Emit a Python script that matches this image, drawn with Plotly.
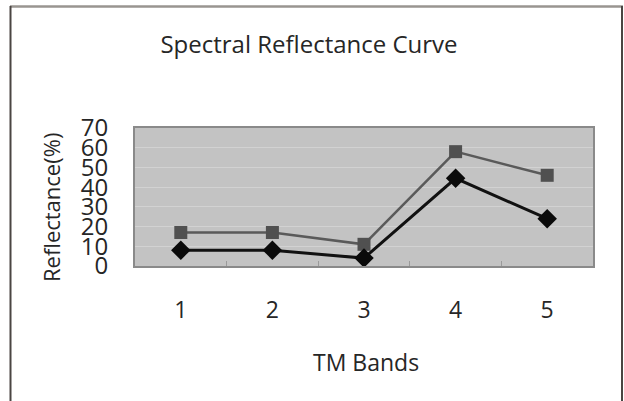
import plotly.graph_objects as go

bands = ["1", "2", "3", "4", "5"]
series_square = [17, 17, 11, 58, 46]
series_diamond = [8, 8, 4, 44.5, 24]
y_ticks = [0, 10, 20, 30, 40, 50, 60, 70]

W, H = 624, 401
L, R, T, B = 135, 31, 128, 135
pw, ph = W - L - R, H - T - B

def px(x):
    return (x - L) / pw

def py(y):
    return (H - B - y) / ph

FONT = "Open Sans"
TXT = "#262626"

fig = go.Figure()
fig.add_trace(go.Scatter(
    x=bands, y=series_square, mode="lines+markers",
    line=dict(color="#5a5a5a", width=2.5),
    marker=dict(symbol="square", size=13, color="#505050"),
    showlegend=False, cliponaxis=False))
fig.add_trace(go.Scatter(
    x=bands, y=series_diamond, mode="lines+markers",
    line=dict(color="#111111", width=3),
    marker=dict(symbol="diamond", size=15, color="#0a0a0a"),
    showlegend=False, cliponaxis=False))

fig.update_layout(
    width=W, height=H,
    margin=dict(l=L, r=R, t=T, b=B),
    paper_bgcolor="white",
    plot_bgcolor="#c3c3c3",
    font=dict(family=FONT, color=TXT),
    title=dict(text="Spectral Reflectance Curve", x=309 / W, xanchor="center",
               y=1 - 45 / H, yanchor="middle", yref="container",
               font=dict(size=24, color=TXT, family=FONT)),
    xaxis=dict(type="category", range=[-0.5, 4.5], showgrid=False,
               ticks="inside", tickson="boundaries", ticklen=5, tickcolor="#9a9a9a",
               tickfont=dict(size=23, color=TXT), ticklabelstandoff=22,
               showline=True, linecolor="#8a8a8a", linewidth=2, mirror=True,
               zeroline=False, fixedrange=True),
    yaxis=dict(range=[0, 70], tickvals=y_ticks, ticktext=[str(v) for v in y_ticks],
               showgrid=True, gridcolor="#d2d2d2", gridwidth=1,
               ticks="", tickfont=dict(size=24, color=TXT), ticklabelstandoff=20,
               showline=True, linecolor="#8a8a8a", linewidth=2, mirror=True,
               zeroline=False, fixedrange=True),
    annotations=[
        dict(text="TM Bands", xref="paper", yref="paper", x=px(366), y=py(362),
             xanchor="center", yanchor="middle", showarrow=False,
             font=dict(size=23, color=TXT, family=FONT)),
        dict(text="Reflectance(%)", xref="paper", yref="paper", x=px(51), y=py(208),
             xanchor="center", yanchor="middle", showarrow=False, textangle=-90,
             font=dict(size=22, color=TXT, family=FONT)),
    ],
    shapes=[
        dict(type="line", xref="paper", yref="paper", x0=px(10), x1=px(623),
             y0=py(6.5), y1=py(6.5), line=dict(color="#999590", width=2.5)),
        dict(type="line", xref="paper", yref="paper", x0=px(10.5), x1=px(10.5),
             y0=py(6), y1=py(402), line=dict(color="#4a4542", width=2)),
        dict(type="line", xref="paper", yref="paper", x0=px(622), x1=px(622),
             y0=py(6), y1=py(402), line=dict(color="#4a4542", width=2)),
    ],
)

fig.write_html("out.html")
